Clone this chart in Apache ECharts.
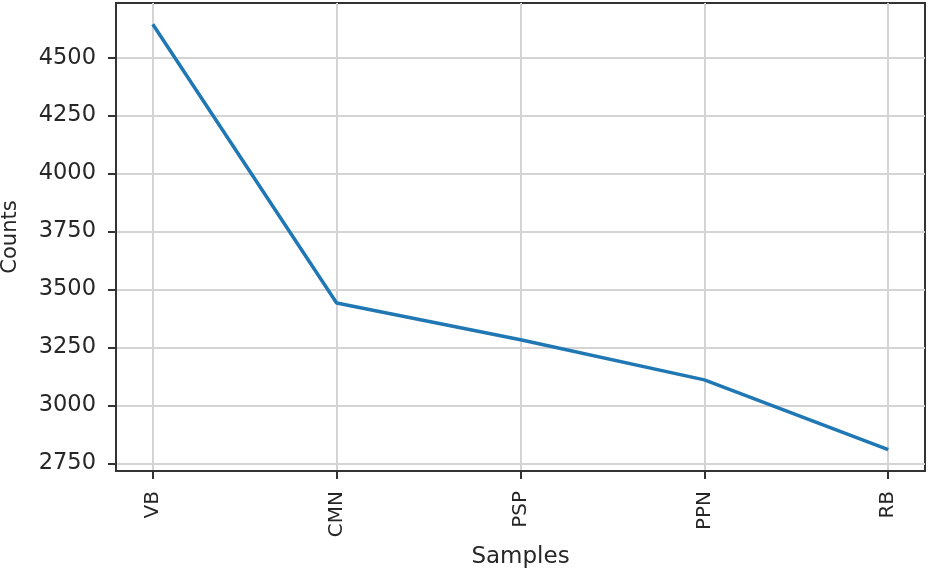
<!DOCTYPE html>
<html>
<head>
<meta charset="utf-8">
<script src="https://cdn.jsdelivr.net/npm/echarts@6/dist/echarts.min.js"></script>
<style>
  html, body { margin: 0; padding: 0; background: #fff; }
  #chart { width: 928px; height: 569px; }
</style>
</head>
<body>
<div id="chart"></div>
<script>
// samples and counts
var samples = ['VB', 'CMN', 'PSP', 'PPN', 'RB'];
var counts = [4644, 3442, 3283, 3110, 2809];
var yTicks = [2750, 3000, 3250, 3500, 3750, 4000, 4250, 4500];

var xIdx = [];
var points = [];
for (var i = 0; i < samples.length; i++) {
    xIdx.push(i);
    points.push([i, counts[i]]);
}

var textColor = '#262626';
var font = 'DejaVu Sans';

var option = {
    animation: false,
    backgroundColor: '#fff',
    grid: {
        left: 116, right: 3, top: 3, bottom: 98,
        outerBoundsMode: 'none',
        containLabel: false,
        show: true,
        borderColor: '#333',
        borderWidth: 2
    },
    xAxis: {
        type: 'value',
        min: -0.2,
        max: 4.2,
        name: 'Samples',
        nameLocation: 'middle',
        nameGap: 71,
        nameTextStyle: { color: textColor, fontSize: 23, fontFamily: font },
        axisLine: { show: true, onZero: false, lineStyle: { color: '#333', width: 2 } },
        axisTick: { show: true, customValues: xIdx, length: 8, lineStyle: { color: '#333', width: 2 } },
        axisLabel: {
            customValues: xIdx,
            rotate: 90,
            margin: 20,
            color: textColor,
            fontSize: 20,
            fontFamily: font,
            formatter: function (v) { return samples[Math.round(v)]; }
        },
        splitLine: { show: true, lineStyle: { color: '#d4d4d4', width: 2 } }
    },
    yAxis: {
        type: 'value',
        min: 2717,
        max: 4736,
        name: 'Counts',
        nameLocation: 'middle',
        nameGap: 95,
        nameTextStyle: { color: textColor, fontSize: 21, fontFamily: font },
        axisLine: { show: true, onZero: false, lineStyle: { color: '#333', width: 2 } },
        axisTick: { show: true, customValues: yTicks, length: 8, lineStyle: { color: '#333', width: 2 } },
        axisLabel: {
            customValues: yTicks,
            margin: 20,
            color: textColor,
            fontSize: 22.5,
            fontFamily: font,
            formatter: function (v) { return String(v); }
        },
        splitLine: { show: true, lineStyle: { color: '#d4d4d4', width: 2 } }
    },
    series: [{
        type: 'line',
        data: points,
        symbol: 'none',
        lineStyle: { color: '#1f77b4', width: 3.5 }
    }]
};

echarts.init(document.getElementById('chart')).setOption(option);
</script>
</body>
</html>
